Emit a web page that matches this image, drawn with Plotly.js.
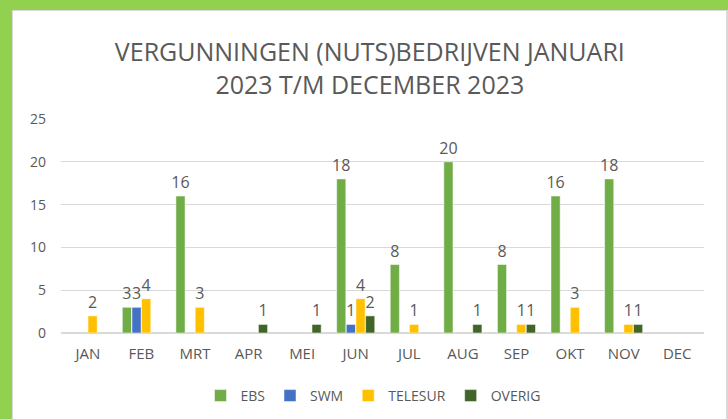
<!DOCTYPE html>
<html>
<head>
<meta charset="utf-8">
<script src="https://cdn.plot.ly/plotly-3.0.1.min.js"></script>
<style>
html,body{margin:0;padding:0;background:#92d050;width:728px;height:419px;overflow:hidden;}
#frame{position:absolute;left:12px;top:10px;width:713px;height:420px;background:#fff;border-left:1px solid #d9d9d9;border-top:1px solid #d9d9d9;border-right:2px solid #d9d9d9;}
#chart{position:absolute;left:0;top:0;width:728px;height:419px;}
</style>
</head>
<body>
<div id="frame"></div>
<div id="chart"></div>
<script>
const months = ["JAN","FEB","MRT","APR","MEI","JUN","JUL","AUG","SEP","OKT","NOV","DEC"];
const ebs     = [null, 3, 16, null, null, 18, 8, 20, 8, 16, 18, null];
const swm     = [null, 3, null, null, null, 1, null, null, null, null, null, null];
const telesur = [2, 4, 3, null, null, 4, 1, null, 1, 3, 1, null];
const overig  = [null, null, null, 1, 1, 2, null, 1, 1, null, 1, null];
const seriesNames = ["EBS","SWM","TELESUR","OVERIG"];
const seriesColors = ["#70ad47","#4472c4","#ffc000","#416528"];
const allSeries = [ebs, swm, telesur, overig];

const traces = allSeries.map((vals, i) => ({
  type: "bar",
  name: seriesNames[i],
  x: months,
  y: vals,
  text: vals.map(v => v === null ? "" : String(v)),
  textposition: "outside",
  constraintext: "none",
  cliponaxis: false,
  textfont: {family: "Open Sans, sans-serif", size: 16, color: "#595959"},
  marker: {color: seriesColors[i], line: {color: "#ffffff", width: 0.5}},
  hoverinfo: "x+y+name"
}));

const layout = {
  width: 728, height: 419,
  paper_bgcolor: "rgba(0,0,0,0)",
  plot_bgcolor: "rgba(0,0,0,0)",
  margin: {l: 61, r: 24, t: 119, b: 86},
  barmode: "group",
  bargap: 0.28,
  bargroupgap: 0.05,
  font: {family: "Open Sans, sans-serif", color: "#595959"},
  title: {
    text: "VERGUNNINGEN (NUTS)BEDRIJVEN JANUARI<br>2023 T/M DECEMBER 2023",
    font: {family: "Open Sans, sans-serif", size: 25, color: "#595959"},
    x: 0.508, xref: "container", xanchor: "center",
    y: 1 - 61/419, yref: "container", yanchor: "middle"
  },
  xaxis: {
    type: "category",
    tickfont: {size: 15, color: "#595959"},
    showgrid: false, zeroline: false, showline: false,
    ticks: "", ticklabelstandoff: 10, fixedrange: true
  },
  yaxis: {
    range: [0, 25],
    tickvals: [0,5,10,15,20,25],
    tickfont: {size: 14, color: "#595959"},
    gridcolor: "#d9d9d9", gridwidth: 1,
    zeroline: true, zerolinecolor: "#d9d9d9", zerolinewidth: 2,
    showline: false, ticks: "", ticklabelstandoff: 14, fixedrange: true
  },
  showlegend: true,
  legend: {
    orientation: "h",
    x: 373/728, xref: "container", xanchor: "center",
    y: 1 - 396/419, yref: "container", yanchor: "middle",
    font: {size: 14, color: "#595959"},
    itemwidth: 30
  }
};

Plotly.newPlot("chart", traces, layout, {displayModeBar: false, staticPlot: true});
</script>
</body>
</html>
